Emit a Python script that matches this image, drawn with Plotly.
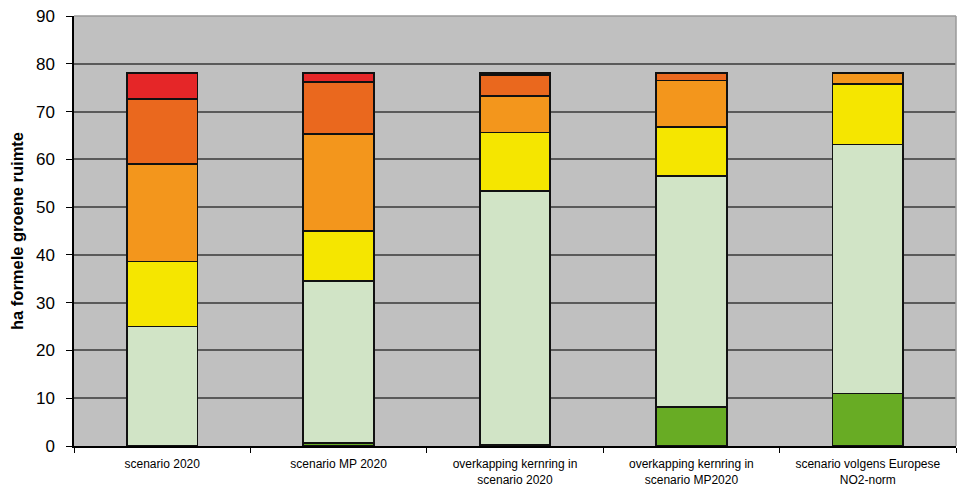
import plotly.graph_objects as go

# Scenario categories (two-line labels)
categories = [
    "scenario 2020",
    "scenario MP 2020",
    "overkapping kernring in<br>scenario 2020",
    "overkapping kernring in<br>scenario MP2020",
    "scenario volgens Europese<br>NO2-norm",
]

# Stacked area shares (ha) per air-quality class, bottom to top
klasse_1 = [None, 0.6, 0.3, 8.2, 11.0]
klasse_2 = [25.0, 34.0, 53.1, 48.3, 52.1]
klasse_3 = [13.6, 10.4, 12.2, 10.3, 12.7]
klasse_4 = [20.5, 20.3, 7.7, 9.7, 2.2]
klasse_5 = [13.6, 10.9, 4.3, 1.5, None]
klasse_6 = [5.3, 1.8, 0.4, None, None]

series = [
    ("klasse 1", klasse_1, "#68AC24"),
    ("klasse 2", klasse_2, "#D1E4C6"),
    ("klasse 3", klasse_3, "#F5E600"),
    ("klasse 4", klasse_4, "#F3961C"),
    ("klasse 5", klasse_5, "#EA681E"),
    ("klasse 6", klasse_6, "#E52628"),
]

y_ticks = list(range(0, 91, 10))

fig = go.Figure()
for name, vals, color in series:
    fig.add_trace(go.Bar(
        x=categories, y=vals, name=name,
        marker=dict(color=color, line=dict(color="#111111", width=1.8)),
    ))

fig.update_layout(
    barmode="stack",
    bargap=0.6,
    width=962, height=494,
    margin=dict(l=74, r=6, t=16, b=48),
    paper_bgcolor="white",
    plot_bgcolor="#C0C0C0",
    showlegend=False,
    font=dict(family="Arial, Liberation Sans, sans-serif", color="black"),
)

fig.update_xaxes(
    type="category",
    tickson="boundaries",
    ticks="outside", ticklen=5, tickcolor="black", tickwidth=1,
    showline=True, linecolor="black", linewidth=1.5,
    mirror=False,
    showgrid=False,
    tickfont=dict(size=12),
    ticklabelstandoff=6,
)

fig.update_yaxes(
    range=[0, 90],
    tickvals=y_ticks,
    ticks="outside", ticklen=6, tickcolor="black", tickwidth=1,
    showline=True, linecolor="black", linewidth=1.5,
    showgrid=True, gridcolor="#5A5A5A", gridwidth=1.5,
    zeroline=False,
    tickfont=dict(size=17),
    ticklabelstandoff=8,
    title=dict(text="<b>ha formele groene ruimte</b>", font=dict(size=16.5), standoff=8),
)

# Light frame on top and right of the plot area
fig.add_shape(type="line", xref="paper", yref="paper", x0=0, x1=1, y0=1, y1=1,
              line=dict(color="#9A9A9A", width=1.5), layer="above")
fig.add_shape(type="line", xref="paper", yref="paper", x0=1, x1=1, y0=0, y1=1,
              line=dict(color="#9A9A9A", width=1.5), layer="above")

fig.write_html("out.html")
